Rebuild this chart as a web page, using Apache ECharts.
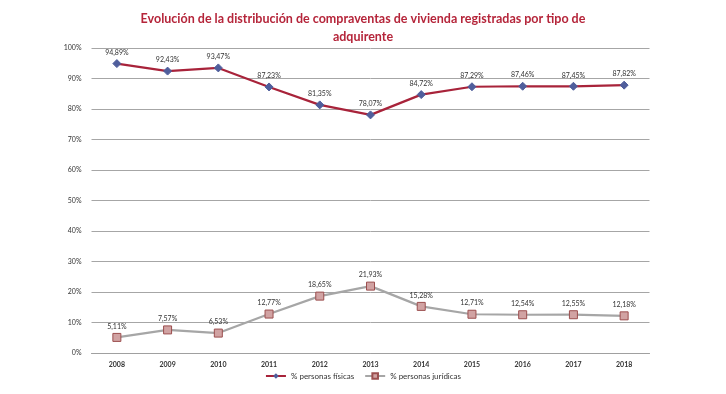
<!DOCTYPE html>
<html><head><meta charset="utf-8">
<script src="https://cdn.jsdelivr.net/npm/echarts@6/dist/echarts.min.js"></script>
<style>html,body{margin:0;padding:0;background:#fff}#c{width:726px;height:394px}</style>
</head><body><div id="c"></div>
<script>
const categories = ['2008','2009','2010','2011','2012','2013','2014','2015','2016','2017','2018'];
const fisicas = [94.89, 92.43, 93.47, 87.23, 81.35, 78.07, 84.72, 87.29, 87.46, 87.45, 87.82];
const juridicas = [5.11, 7.57, 6.53, 12.77, 18.65, 21.93, 15.28, 12.71, 12.54, 12.55, 12.18];
const fmt = v => v.toFixed(2).replace('.', ',') + '%';
const chart = echarts.init(document.getElementById('c'));
const F = "Lato, 'Open Sans', sans-serif";
chart.setOption({
  animation: false,
  textStyle: { fontFamily: F },
  title: {
    text: 'Evolución de la distribución de compraventas de vivienda registradas por tipo de\nadquirente',
    left: 'center', top: 5,
    textStyle: { color: '#b5253a', fontSize: 12.5, fontWeight: 'bold', lineHeight: 18, fontFamily: F }
  },
  legend: {
    bottom: 9, left: 'center', itemWidth: 20, itemHeight: 7, itemGap: 10,
    textStyle: { fontSize: 8, color: '#333', fontFamily: F },
    data: ['% personas físicas', '% personas jurídicas']
  },
  grid: { left: 91.5, right: 76.5, top: 48, bottom: 41 },
  xAxis: {
    type: 'category', data: categories, boundaryGap: true,
    axisLine: { lineStyle: { color: '#a0a0a0', width: 1 } },
    axisTick: { show: false },
    axisLabel: { fontSize: 7, fontWeight: 'bold', color: '#333', margin: 8, fontFamily: F }
  },
  yAxis: {
    type: 'value', min: 0, max: 100, interval: 10,
    axisLine: { show: false }, axisTick: { show: false },
    axisLabel: { fontSize: 7, color: '#333', formatter: '{value}%', margin: 10, fontFamily: F },
    splitLine: { lineStyle: { color: '#a6a6a6', width: 1 } }
  },
  series: [
    {
      name: '% personas físicas', type: 'line', data: fisicas,
      symbol: 'diamond', symbolSize: 8,
      lineStyle: { color: '#a8233a', width: 2.2 },
      itemStyle: { color: '#4f5e9c', borderColor: '#4f5e9c' },
      label: { show: true, position: 'top', distance: 3, fontSize: 7, color: '#333', fontFamily: F, formatter: p => fmt(p.value) }
    },
    {
      name: '% personas jurídicas', type: 'line', data: juridicas,
      symbol: 'rect', symbolSize: 8,
      lineStyle: { color: '#a6a6a6', width: 2.2 },
      itemStyle: { color: '#d1a3a3', borderColor: '#9c4f4f', borderWidth: 1 },
      label: { show: true, position: 'top', distance: 3, fontSize: 7, color: '#333', fontFamily: F, formatter: p => fmt(p.value) }
    }
  ]
});
</script></body></html>
